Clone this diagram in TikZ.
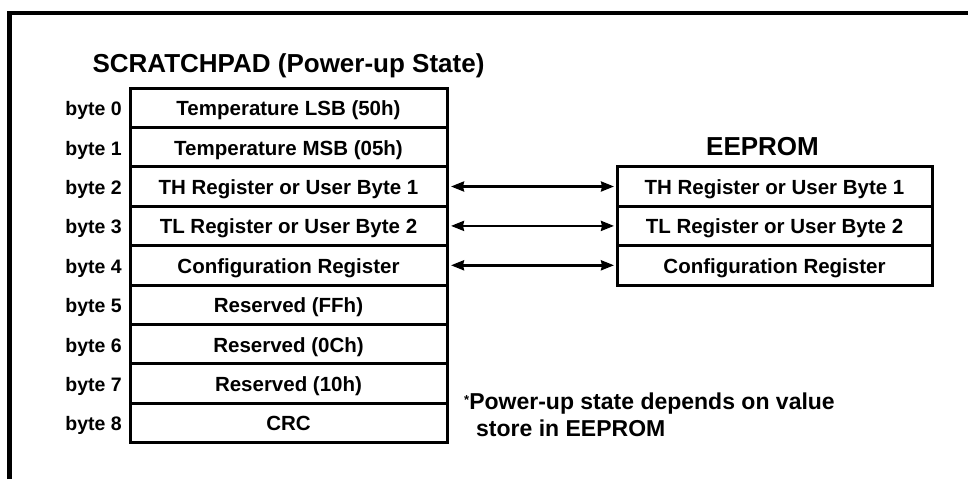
\documentclass[tikz,border=0pt]{standalone}
\usepackage{fontspec}
\setmainfont{Liberation Sans}
\usetikzlibrary{positioning, arrows.meta}

\begin{document}
\begin{tikzpicture}[x=1pt, y=1pt, node distance=0pt,
    >={Stealth[length=13pt, width=10pt, inset=1pt]},
    reg/.style={draw, line width=3pt, minimum width=317pt, minimum height=39.4pt,
      inner sep=0pt, outer sep=0pt, text height=16pt, text depth=0pt,
      font=\fontsize{20.5}{24}\selectfont\bfseries},
    bytelbl/.style={inner sep=0pt, text height=16pt, text depth=0pt,
      font=\fontsize{19.5}{23}\selectfont\bfseries},
    heading/.style={inner sep=0pt, text height=19pt, text depth=0pt,
      font=\fontsize{26}{30}\selectfont\bfseries},
    note/.style={inner sep=0pt, align=left, font=\fontsize{23}{27}\selectfont\bfseries},
    link/.style={<->, line width=2.5pt, shorten <=4pt, shorten >=3pt}]
    \useasboundingbox (0,0) rectangle (968,-479);
    % Frame
    \draw[line width=4.3pt] (9.5,-479) -- (9.5,-13) -- (968,-13);

    % Scratchpad
    \node[reg]             (b0) at (288.5,-107.7) {Temperature LSB (50h)};
    \node[reg, below=of b0] (b1) {Temperature MSB (05h)};
    \node[reg, below=of b1] (b2) {TH Register or User Byte 1};
    \node[reg, below=of b2] (b3) {TL Register or User Byte 2};
    \node[reg, below=of b3] (b4) {Configuration Register};
    \node[reg, below=of b4] (b5) {Reserved (FFh)};
    \node[reg, below=of b5] (b6) {Reserved (0Ch)};
    \node[reg, below=of b6] (b7) {Reserved (10h)};
    \node[reg, below=of b7] (b8) {CRC};
    \node[heading, above=15pt of b0] (sptitle) {SCRATCHPAD (Power-up State)};

    % Byte numbers
    \node[bytelbl, left=8pt of b0] (l0) {byte 0};
    \node[bytelbl, left=8pt of b1] (l1) {byte 1};
    \node[bytelbl, left=8pt of b2] (l2) {byte 2};
    \node[bytelbl, left=8pt of b3] (l3) {byte 3};
    \node[bytelbl, left=8pt of b4] (l4) {byte 4};
    \node[bytelbl, left=8pt of b5] (l5) {byte 5};
    \node[bytelbl, left=8pt of b6] (l6) {byte 6};
    \node[bytelbl, left=8pt of b7] (l7) {byte 7};
    \node[bytelbl, left=8pt of b8] (l8) {byte 8};

    % EEPROM
    \node[reg, minimum width=315pt, right=170pt of b2] (e0) {TH Register or User Byte 1};
    \node[reg, minimum width=315pt, below=of e0]       (e1) {TL Register or User Byte 2};
    \node[reg, minimum width=315pt, below=of e1]       (e2) {Configuration Register};
    \node[heading, above=11pt of e0, xshift=-12pt]     (eetitle) {EEPROM};

    % Links
    \draw[link] (b2) -- (e0);
    \draw[link] (b3) -- (e1);
    \draw[link] (b4) -- (e2);

    % Footnote
    \node[note, right=17pt of b8, yshift=7.8pt] (fn)
      {\raisebox{5pt}{\fontsize{13}{13}\selectfont *}Power-up state depends on value\\
       \hspace*{12pt}store in EEPROM};
\end{tikzpicture}
\end{document}
